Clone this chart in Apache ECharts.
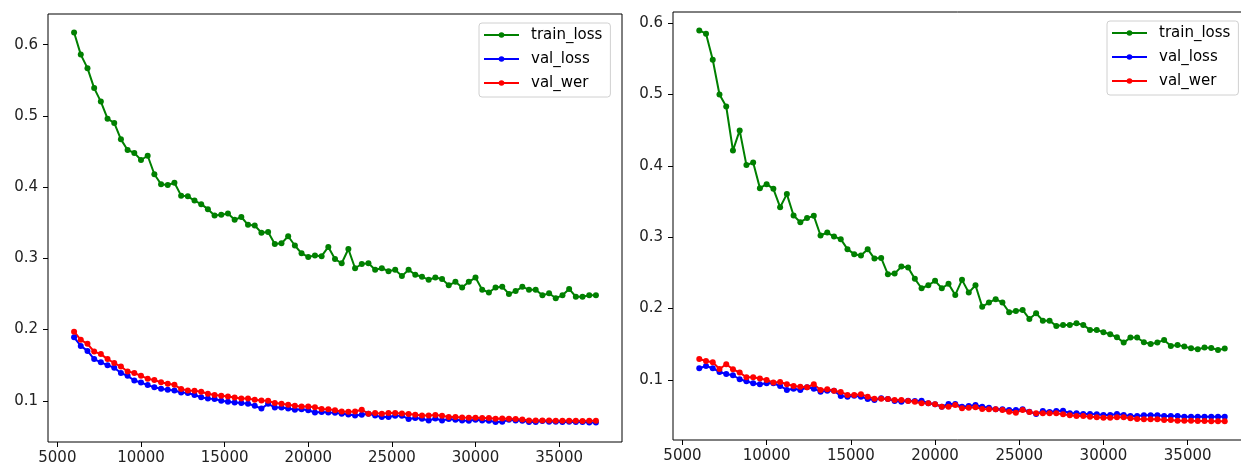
<!DOCTYPE html>
<html>
<head>
<meta charset="utf-8">
<script src="https://cdn.jsdelivr.net/npm/echarts@6/dist/echarts.min.js"></script>
<style>
html, body { margin: 0; padding: 0; background: #fff; }
#main { width: 1241px; height: 468px; }
</style>
</head>
<body>
<div id="main"></div>
<script>
// training step of each evaluation (both runs)
const steps = [6000, 6400, 6800, 7200, 7600, 8000, 8400, 8800, 9200, 9600,
  10000, 10400, 10800, 11200, 11600, 12000, 12400, 12800, 13200, 13600,
  14000, 14400, 14800, 15200, 15600, 16000, 16400, 16800, 17200, 17600,
  18000, 18400, 18800, 19200, 19600, 20000, 20400, 20800, 21200, 21600,
  22000, 22400, 22800, 23200, 23600, 24000, 24400, 24800, 25200, 25600,
  26000, 26400, 26800, 27200, 27600, 28000, 28400, 28800, 29200, 29600,
  30000, 30400, 30800, 31200, 31600, 32000, 32400, 32800, 33200, 33600,
  34000, 34400, 34800, 35200, 35600, 36000, 36400, 36800, 37200];

// left run
const trainLossA = [0.617, 0.586, 0.567, 0.539, 0.520, 0.496, 0.490, 0.467, 0.452, 0.448,
  0.438, 0.444, 0.418, 0.404, 0.403, 0.406, 0.388, 0.387, 0.381, 0.376,
  0.369, 0.360, 0.361, 0.363, 0.354, 0.358, 0.347, 0.346, 0.336, 0.337,
  0.320, 0.321, 0.331, 0.318, 0.307, 0.302, 0.304, 0.303, 0.316, 0.299,
  0.293, 0.313, 0.286, 0.292, 0.293, 0.284, 0.286, 0.282, 0.284, 0.275,
  0.284, 0.277, 0.274, 0.270, 0.273, 0.271, 0.262, 0.267, 0.259, 0.267,
  0.273, 0.256, 0.252, 0.259, 0.260, 0.250, 0.254, 0.260, 0.256, 0.256,
  0.248, 0.251, 0.244, 0.248, 0.257, 0.246, 0.246, 0.248, 0.248];
const valLossA = [0.189, 0.177, 0.170, 0.1585, 0.154, 0.150, 0.1463, 0.139, 0.135, 0.1285,
  0.1257, 0.122, 0.119, 0.117, 0.1155, 0.1145, 0.1116, 0.1108, 0.108, 0.105,
  0.103, 0.1024, 0.100, 0.0986, 0.0976, 0.0967, 0.0958, 0.093, 0.089, 0.0958,
  0.0906, 0.0906, 0.089, 0.0874, 0.088, 0.0867, 0.0836, 0.0843, 0.0836, 0.0832,
  0.0818, 0.0808, 0.0794, 0.0804, 0.0818, 0.0794, 0.0771, 0.0771, 0.079, 0.079,
  0.0743, 0.0757, 0.0748, 0.0724, 0.0752, 0.0724, 0.0743, 0.0733, 0.0724, 0.0719,
  0.0733, 0.0724, 0.0719, 0.0701, 0.0705, 0.0733, 0.0724, 0.0719, 0.0701, 0.0701,
  0.0715, 0.0705, 0.0705, 0.0701, 0.0705, 0.0701, 0.0701, 0.0696, 0.0696];
const valWerA = [0.197, 0.1856, 0.180, 0.169, 0.1655, 0.1585, 0.153, 0.148, 0.141, 0.139,
  0.135, 0.131, 0.129, 0.126, 0.124, 0.1224, 0.1164, 0.1145, 0.114, 0.1126,
  0.1098, 0.108, 0.107, 0.106, 0.1046, 0.1032, 0.103, 0.1014, 0.1004, 0.100,
  0.0967, 0.0958, 0.0944, 0.093, 0.092, 0.092, 0.091, 0.0886, 0.088, 0.0867,
  0.085, 0.0846, 0.085, 0.0874, 0.0818, 0.0827, 0.0818, 0.0827, 0.0827, 0.0822,
  0.0813, 0.0804, 0.0794, 0.0794, 0.0799, 0.079, 0.0771, 0.0771, 0.0766, 0.0762,
  0.0762, 0.0757, 0.0757, 0.0748, 0.0752, 0.0748, 0.0743, 0.0738, 0.0724, 0.0724,
  0.0724, 0.0724, 0.0719, 0.0719, 0.0719, 0.0719, 0.0715, 0.0719, 0.0719];

// right run
const trainLossB = [0.5896, 0.585, 0.5486, 0.4999, 0.483, 0.4214, 0.4495, 0.401, 0.4046, 0.3687,
  0.3743, 0.3677, 0.342, 0.3603, 0.3303, 0.321, 0.3267, 0.3299, 0.3023, 0.3065,
  0.3009, 0.2972, 0.2832, 0.2762, 0.2742, 0.2832, 0.270, 0.271, 0.248, 0.249,
  0.2588, 0.2574, 0.2416, 0.2285, 0.2327, 0.2388, 0.2285, 0.2346, 0.2191, 0.2402,
  0.2224, 0.2327, 0.2027, 0.2084, 0.2131, 0.2084, 0.1949, 0.1967, 0.1981, 0.1855,
  0.1935, 0.1831, 0.1831, 0.1757, 0.1771, 0.1771, 0.1794, 0.1771, 0.1701, 0.1701,
  0.1668, 0.164, 0.1598, 0.1523, 0.1593, 0.1593, 0.1528, 0.1505, 0.1523, 0.1561,
  0.1477, 0.1491, 0.1467, 0.1444, 0.143, 0.1453, 0.1449, 0.142, 0.1439];
const valLossB = [0.1164, 0.1196, 0.1164, 0.1112, 0.1084, 0.1066, 0.101, 0.0982, 0.0954, 0.094,
  0.0954, 0.0954, 0.0916, 0.086, 0.0878, 0.086, 0.0897, 0.0878, 0.0836, 0.085,
  0.085, 0.0776, 0.0766, 0.078, 0.0766, 0.0734, 0.072, 0.0743, 0.0734, 0.0706,
  0.0696, 0.071, 0.0706, 0.071, 0.0673, 0.0659, 0.0626, 0.0664, 0.0664, 0.0626,
  0.0636, 0.065, 0.0626, 0.0612, 0.0589, 0.0589, 0.058, 0.058, 0.0589, 0.0556,
  0.0524, 0.0566, 0.0551, 0.0566, 0.057, 0.0533, 0.0533, 0.0524, 0.0524, 0.0519,
  0.0509, 0.0509, 0.0524, 0.0509, 0.0495, 0.0495, 0.0505, 0.0505, 0.0505, 0.0495,
  0.0495, 0.0495, 0.0486, 0.0486, 0.0486, 0.0486, 0.0486, 0.0486, 0.0486];
const valWerB = [0.1294, 0.1266, 0.1248, 0.1154, 0.122, 0.115, 0.1103, 0.1038, 0.1038, 0.1019,
  0.100, 0.0963, 0.0972, 0.094, 0.0916, 0.0906, 0.0897, 0.094, 0.086, 0.087,
  0.085, 0.0832, 0.079, 0.079, 0.080, 0.0766, 0.0738, 0.0738, 0.0734, 0.072,
  0.072, 0.0706, 0.0696, 0.0673, 0.0673, 0.0659, 0.0626, 0.0626, 0.065, 0.0603,
  0.0612, 0.0617, 0.0594, 0.0589, 0.0589, 0.058, 0.0556, 0.0542, 0.058, 0.0551,
  0.0533, 0.0533, 0.0533, 0.0533, 0.0519, 0.0505, 0.0495, 0.0495, 0.0486, 0.0477,
  0.0472, 0.0472, 0.0477, 0.0477, 0.0463, 0.0453, 0.0449, 0.0449, 0.0449, 0.0439,
  0.0439, 0.043, 0.043, 0.043, 0.0425, 0.0425, 0.042, 0.042, 0.042];

const seriesNames = ['train_loss', 'val_loss', 'val_wer'];
const seriesColors = ['#008000', '#0000ff', '#ff0000'];
const xTicks = [5000, 10000, 15000, 20000, 25000, 30000, 35000];
const yTicks = [0.1, 0.2, 0.3, 0.4, 0.5, 0.6];

const FONT = 'DejaVu Sans';
const FS = 15;
const myChart = echarts.init(document.getElementById('main'), null, { renderer: 'canvas' });

function xAxisFor(gi) {
  return {
    type: 'value', gridIndex: gi, min: 4440, max: 38760,
    axisLine: { show: false },
    axisTick: { show: true, length: 5, customValues: xTicks, lineStyle: { color: '#000', width: 1 } },
    axisLabel: { customValues: xTicks, margin: 9, color: '#222', fontFamily: FONT, fontSize: FS,
      formatter: v => String(v) },
    splitLine: { show: false }
  };
}
function yAxisFor(gi, min, max) {
  return {
    type: 'value', gridIndex: gi, min: min, max: max,
    axisLine: { show: false },
    axisTick: { show: true, length: 5, customValues: yTicks, lineStyle: { color: '#000', width: 1 } },
    axisLabel: { customValues: yTicks, margin: 10, color: '#222', fontFamily: FONT, fontSize: FS,
      formatter: v => v.toFixed(1) },
    splitLine: { show: false }
  };
}
function makeSeries(gi, name, color, values) {
  return {
    type: 'line', name: name, xAxisIndex: gi, yAxisIndex: gi,
    data: steps.map((s, i) => [s, values[i]]),
    symbol: 'circle', symbolSize: 6, showSymbol: true,
    lineStyle: { color: color, width: 2 },
    itemStyle: { color: color },
    emphasis: { disabled: true },
    z: 2
  };
}
function legendAt(left, top) {
  return {
    data: seriesNames, orient: 'vertical', left: left, top: top,
    itemWidth: 35, itemHeight: 7, itemGap: 8,
    padding: [4, 8, 6, 4],
    backgroundColor: 'rgba(255,255,255,0.8)',
    borderColor: '#d0d0d0', borderWidth: 1, borderRadius: 3,
    textStyle: { fontFamily: FONT, fontSize: FS, color: '#000', lineHeight: 16, padding: [0, 0, 0, 7] },
    selectedMode: false
  };
}

const runs = [[trainLossA, valLossA, valWerA], [trainLossB, valLossB, valWerB]];
const series = [];
runs.forEach((run, gi) => {
  run.forEach((vals, k) => series.push(makeSeries(gi, seriesNames[k], seriesColors[k], vals)));
});

const gridBase = { show: true, borderColor: '#000', borderWidth: 1, backgroundColor: 'transparent',
  containLabel: false, outerBoundsMode: 'none' };
const option = {
  animation: false,
  backgroundColor: '#fff',
  grid: [
    Object.assign({ left: 48, top: 14, width: 574, height: 428 }, gridBase),
    Object.assign({ left: 673, top: 12, width: 578, height: 428 }, gridBase)
  ],
  xAxis: [xAxisFor(0), xAxisFor(1)],
  yAxis: [yAxisFor(0, 0.0421, 0.643), yAxisFor(1, 0.0159, 0.6154)],
  legend: [legendAt(479, 23), legendAt(1107, 21)],
  series: series
};
myChart.setOption(option);
</script>
</body>
</html>
